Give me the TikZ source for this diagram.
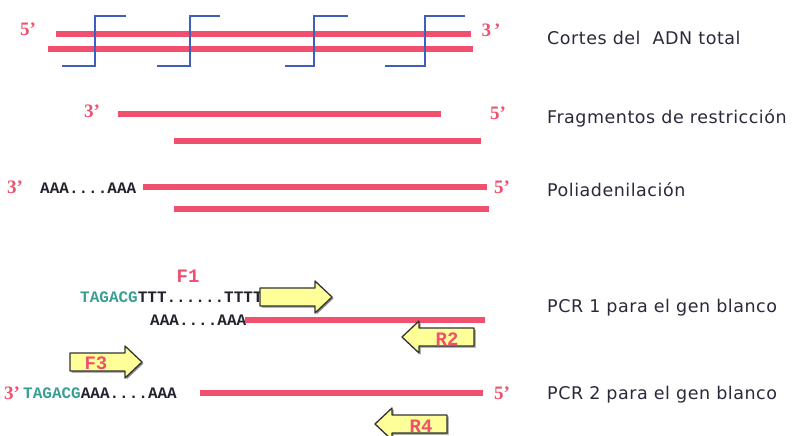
\documentclass[tikz,border=0pt]{standalone}
\usepackage{fontspec}
\setmainfont{Liberation Serif}
\newfontfamily\monof{Liberation Mono}
\newfontfamily\sansf[LetterSpace=3]{DejaVu Sans}
\definecolor{strand}{HTML}{F0506E}
\definecolor{cutblue}{HTML}{3F5FC0}
\definecolor{seqteal}{HTML}{3A9E95}
\definecolor{seqdark}{HTML}{22222E}
\definecolor{labdark}{HTML}{2A2A3A}
\definecolor{primerfill}{HTML}{FFFF99}
\tikzset{
  strandline/.style={draw=strand, line width=6pt},
  cutline/.style={draw=cutblue, line width=1.5pt},
  endlab/.style={text=strand, font=\fontsize{19}{19}\selectfont\bfseries, inner sep=0pt},
  seqtxt/.style={text=seqdark, font=\fontsize{16}{16}\selectfont\monof\bfseries, inner sep=0pt, anchor=west},
  rowlab/.style={text=labdark, font=\fontsize{17.5}{17.5}\selectfont\sansf, inner sep=0pt, anchor=west},
  primerlab/.style={text=strand, font=\fontsize{19}{19}\selectfont\monof\bfseries, inner sep=0pt},
  primerbox/.style={draw=black!80, line width=1.3pt, fill=primerfill, line join=round},
  primerR/.pic={
    \fill[black!45] (1.5,-7.5) -- (56.5,-7.5) -- (56.5,-14.5) -- (73.5,1.5) -- (56.5,17.5) -- (56.5,10.5) -- (1.5,10.5) -- cycle;
    \draw[primerbox] (0,-9) -- (55,-9) -- (55,-16) -- (72,0) -- (55,16) -- (55,9) -- (0,9) -- cycle;
  },
  primerL/.pic={
    \fill[black!45] (1.5,-7.5) -- (-53.5,-7.5) -- (-53.5,-14.5) -- (-70.5,1.5) -- (-53.5,17.5) -- (-53.5,10.5) -- (1.5,10.5) -- cycle;
    \draw[primerbox] (0,-9) -- (-55,-9) -- (-55,-16) -- (-72,0) -- (-55,16) -- (-55,9) -- (0,9) -- cycle;
  }
}
\begin{document}
\begin{tikzpicture}[x=1pt,y=-1pt]
\useasboundingbox[fill=white] (0,0) rectangle (803,436);

% Row 1: Cortes del ADN total
\coordinate (r1a) at (56,34);  \coordinate (r1b) at (471,34);
\coordinate (r1c) at (48,49);  \coordinate (r1d) at (473,49);
\draw[strandline] (r1a) -- (r1b);
\draw[strandline] (r1c) -- (r1d);
\foreach \v/\r/\l [count=\i] in {95/126/62, 190/220/157, 314/348/285, 425/465/385}{
  \coordinate (cutT\i) at (\r,16);
  \coordinate (cutB\i) at (\l,66);
  \draw[cutline] (cutT\i) -- (\v,16) -- (\v,66) -- (cutB\i);
}
\node[endlab] (p5a) at (28,29) {5’};
\node[endlab] (p3a) at (491,30) {3\,’};
\node[rowlab] (lab1) at (547,38) {Cortes del\ \ ADN total};

% Row 2: Fragmentos
\coordinate (r2a) at (118,114); \coordinate (r2b) at (441,114);
\coordinate (r2c) at (174,141); \coordinate (r2d) at (481,141);
\draw[strandline] (r2a) -- (r2b);
\draw[strandline] (r2c) -- (r2d);
\node[endlab] (p3b) at (92,111) {3’};
\node[endlab] (p5b) at (498,113) {5’};
\node[rowlab] (lab2) at (547,118) {Fragmentos de restricción};

% Row 3: Poliadenilacion
\coordinate (r3a) at (143,187); \coordinate (r3b) at (487,187);
\coordinate (r3c) at (174,209); \coordinate (r3d) at (489,209);
\draw[strandline] (r3a) -- (r3b);
\draw[strandline] (r3c) -- (r3d);
\node[endlab] (p3c) at (15,187) {3’};
\node[seqtxt] (polyA1) at (40,188) {AAA....AAA};
\node[endlab] (p5c) at (502,187) {5’};
\node[rowlab] (lab3) at (547,190) {Poliadenilación};

% PCR 1
\node[primerlab] (F1) at (188,276) {F1};
\node[seqtxt] (seq1) at (80,297) {\textcolor{seqteal}{TAGACG}TTT......TTTT};
\pic at (260,297) {primerR};
\node[seqtxt] (polyA2) at (150,320) {AAA....AAA};
\coordinate (r4a) at (245,320); \coordinate (r4b) at (485,320);
\draw[strandline] (r4a) -- (r4b);
\pic at (474,337) {primerL};
\node[primerlab] (R2) at (447,339) {R2};
\node[rowlab] (lab4) at (547,308) {PCR 1 para el gen blanco};

% PCR 2
\pic at (70,362) {primerR};
\node[primerlab] (F3) at (96,363) {F3};
\node[endlab] (p3d) at (12,393) {3’};
\node[seqtxt] (seq2) at (23,393) {\textcolor{seqteal}{TAGACG}AAA....AAA};
\coordinate (r5a) at (200,393); \coordinate (r5b) at (483,393);
\draw[strandline] (r5a) -- (r5b);
\node[endlab] (p5d) at (502,393) {5’};
\pic at (447,424) {primerL};
\node[primerlab] (R4) at (421,426) {R4};
\node[rowlab] (lab5) at (547,395) {PCR 2 para el gen blanco};
\end{tikzpicture}
\end{document}
